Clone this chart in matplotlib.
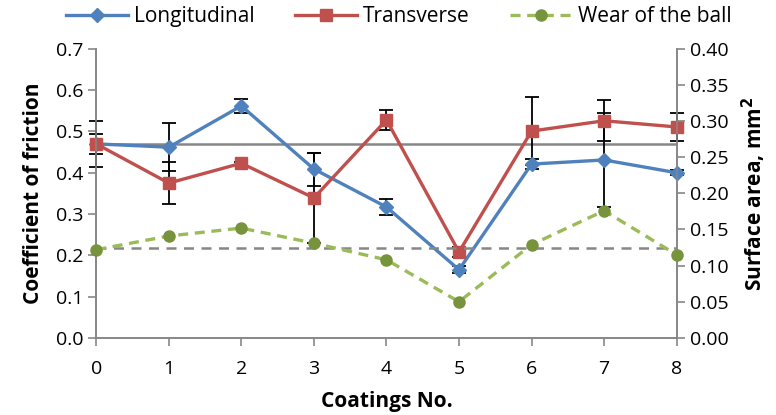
import matplotlib
matplotlib.use("Agg")
import matplotlib.pyplot as plt
from matplotlib.lines import Line2D

plt.rcParams['font.family'] = ['Open Sans', 'DejaVu Sans']

# data
coatings = [0, 1, 2, 3, 4, 5, 6, 7, 8]
longitudinal = [0.470, 0.462, 0.562, 0.409, 0.317, 0.165, 0.421, 0.431, 0.400]
longitudinal_err = [0.055, 0.058, 0.017, 0.040, 0.020, 0.008, 0.012, 0.115, 0.006]
transverse = [0.470, 0.375, 0.423, 0.339, 0.528, 0.208, 0.501, 0.526, 0.511]
transverse_err = [0.025, 0.050, 0.004, 0.110, 0.025, 0.012, 0.083, 0.050, 0.035]
wear = [0.122, 0.141, 0.152, 0.131, 0.108, 0.050, 0.129, 0.176, 0.115]
friction_ref = 0.469
wear_ref = 0.124

blue = '#4F81BD'
red = '#C0504D'
green = '#9BBB59'
green_dark = '#77933C'
grey = '#878787'

fig = plt.figure(figsize=(7.76, 4.15), dpi=100)
ax = fig.add_axes([0.124, 0.186, 0.748, 0.696])
ax2 = ax.twinx()

ax.axhline(friction_ref, color=grey, lw=1.8, zorder=1)
ax2.axhline(wear_ref, color=grey, lw=1.8, ls=(0, (4, 3)), zorder=1)

for ys, err, col, mk, size in [(longitudinal, longitudinal_err, blue, 'D', 7),
                               (transverse, transverse_err, red, 's', 8)]:
    eb = ax.errorbar(coatings, ys, yerr=err, color=col, lw=2.4, marker=mk,
                     ms=size, ecolor='black', elinewidth=1.3, capsize=5,
                     capthick=1.3, zorder=3)
    for artist in eb.lines[0:1] + tuple(eb.lines[1]) + tuple(eb.lines[2]):
        artist.set_clip_on(False)
ax2.plot(coatings, wear, color=green, lw=2.4, ls=(0, (3, 2)), marker='o', ms=8,
         mfc=green_dark, mec=green_dark, zorder=3, clip_on=False)

ax.set_xlim(0, 8)
ax.set_ylim(0, 0.7)
ax2.set_ylim(0, 0.40)
ax.set_xticks(coatings)
ax.set_yticks([i / 10 for i in range(8)])
ax.set_yticklabels(['%.1f' % (i / 10) for i in range(8)])
ax2.set_yticks([i * 0.05 for i in range(9)])
ax2.set_yticklabels(['%.2f' % (i * 0.05) for i in range(9)])

for a in (ax, ax2):
    a.spines['top'].set_visible(False)
    for s in ('left', 'right', 'bottom'):
        a.spines[s].set_color(grey)
        a.spines[s].set_linewidth(1.2)
    a.tick_params(colors=grey, labelcolor='black', labelsize=14, length=6,
                  width=1.2)
ax.tick_params(axis='x', pad=10)

ax.set_xlabel('Coatings No.', fontsize=15, fontweight='bold', labelpad=9)
ax.set_ylabel('Coefficient of friction', fontsize=15, fontweight='bold',
              labelpad=8)
ax2.set_ylabel('Surface area, mm$^\\mathbf{2}$', fontsize=15,
               fontweight='bold', labelpad=8)

handles = [
    Line2D([], [], color=blue, lw=2.4, marker='D', ms=7),
    Line2D([], [], color=red, lw=2.4, marker='s', ms=8),
    Line2D([], [], color=green, lw=2.4, ls=(0, (3, 2)), marker='o', ms=8,
           mfc=green_dark, mec=green_dark),
]
fig.legend(handles, ['Longitudinal', 'Transverse', 'Wear of the ball'],
           loc='upper center', bbox_to_anchor=(0.514, 1.03), ncol=3,
           frameon=False, fontsize=15, handlelength=3.0, handletextpad=0.3,
           columnspacing=1.9)

fig.savefig('out.png', dpi=100)
